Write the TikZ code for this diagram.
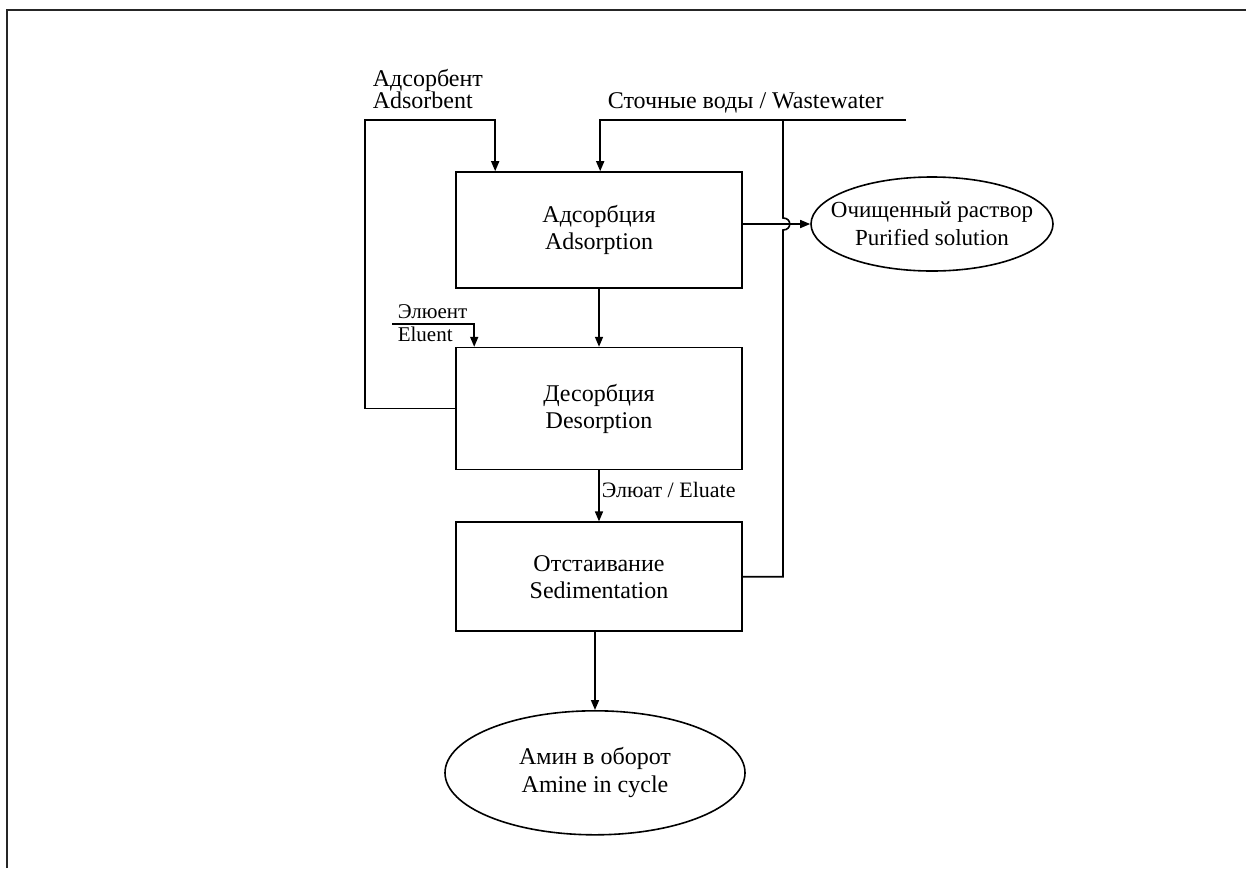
\documentclass[tikz,border=0pt]{standalone}
\usepackage{fontspec}
\setmainfont{Liberation Serif}
\usetikzlibrary{positioning,arrows.meta,shapes.geometric}

\begin{document}
\begin{tikzpicture}[
  x=0.5pt, y=-0.5pt, line width=0.8pt,
  stage/.style={
    draw, minimum width=143pt,
    minimum height=58pt,
    inner sep=0pt,
    font=\fontsize{12}{13.5}\selectfont, align=center
  },
  result/.style={draw, ellipse, inner sep=0pt},
  rtext/.style={inner sep=0pt, font=\fontsize{12}{14}\selectfont, align=center},
  lbl/.style={inner sep=0pt, font=\fontsize{12}{12}\selectfont},
  small/.style={inner sep=0pt, font=\fontsize{10.5}{10.5}\selectfont},
  flow/.style={-{Triangle[length=5pt,width=4pt]}}
]
\useasboundingbox (0,0) rectangle (1246,868);

% --- frame ---
\draw[line width=1pt, black!85] (7,868) -- (7,10) -- (1246,10);

% --- stages ---
\node[stage] (ads) at (599,230) {Адсорбция\\Adsorption};
\node[stage, minimum height=61pt, below=29pt of ads] (des) {Десорбция\\Desorption};
\node[stage, minimum height=54.5pt, below=25.5pt of des] (sed) {Отстаивание\\Sedimentation};

% --- products ---
\node[result, minimum width=150pt, minimum height=62pt, below=39pt of sed, xshift=-2pt] (amine) {};
\node[rtext] (amineTxt) at (amine) {Амин в оборот\\Amine in cycle};
\node[result, minimum width=121pt, minimum height=47pt] (pur) at (932,224) {};
\node[rtext, font=\fontsize{11.5}{14}\selectfont] (purTxt) at (pur) {Очищенный раствор\\Purified solution};

% --- inputs ---
\coordinate (loopL) at (365,120);
\coordinate (wwEnd) at (906,120);
\coordinate (retTop) at (783,120);
\coordinate (cross) at (783,224);
\coordinate (eluIn) at (392,324);

\node[lbl, anchor=base west] (adsRu) at (372,86) {Адсорбент};
\node[lbl, anchor=base west] (adsEn) at (372,108) {Adsorbent};
\node[lbl, anchor=base west] (ww) at (607,108) {Сточные воды / Wastewater};
\node[small, anchor=base west] (eluRu) at (397,318) {Элюент};
\node[small, anchor=base west] (eluEn) at (397,341) {Eluent};
\node[lbl, font=\fontsize{11}{11}\selectfont, anchor=base west] (eluate) at (601,497) {Элюат / Eluate};

% --- flows ---
\draw[flow] (des.west) -| (loopL) -| ([xshift=20pt]ads.north west);
\draw[flow] (wwEnd) -| ([xshift=72.5pt]ads.north west);
\draw[flow] (eluIn) -| ([xshift=9.5pt]des.north west);
\draw[flow] (ads) -- (des);
\draw[flow] (des) -- (sed);
\draw[flow] ([xshift=-2pt]sed.south) -- (amine);
\draw[flow] (ads.east |- pur.west) -- (pur.west);

% return line from sedimentation, hopping over the purified stream
\draw (sed.east) -| ([yshift=-3pt]cross)
  .. controls ([xshift=4.5pt,yshift=-3pt]cross) and ([xshift=4.5pt,yshift=3pt]cross) .. ([yshift=3pt]cross)
  -- (retTop);

\end{tikzpicture}
\end{document}
